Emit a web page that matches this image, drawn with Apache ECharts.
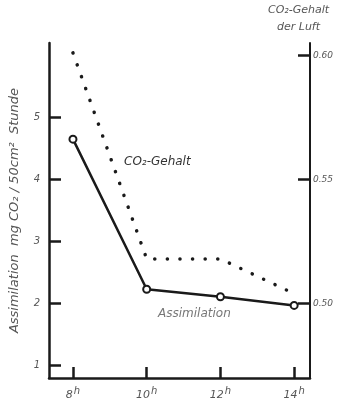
<!DOCTYPE html>
<html>
<head>
<meta charset="utf-8">
<script src="https://cdn.jsdelivr.net/npm/echarts@6/dist/echarts.min.js"></script>
<style>
  html, body { margin: 0; padding: 0; background: #fff; }
  #chart { width: 337px; height: 405px; }
</style>
</head>
<body>
<div id="chart"></div>
<script>
// hours of the day
var hours = [8, 10, 12, 14]
var hourLabels = ['8', '10', '12', '14']
// assimilation, mg CO2 / 50 cm2 / hour (left axis)
var assimilation = [4.65, 2.23, 2.11, 1.97]
// CO2 content of the air (right axis)
var co2 = [0.601, 0.518, 0.518, 0.504]
var leftTicks = [1, 2, 3, 4, 5]
var rightTicks = [0.50, 0.55, 0.60]

var ink = '#1a1a1a'
var pencil = '#555'
var font = 'DejaVu Sans'

var chart = echarts.init(document.getElementById('chart'), null, { renderer: 'canvas' })

function pairs(xs, ys) {
  return xs.map(function (x, i) { return [x, ys[i]] })
}

var option = {
  backgroundColor: '#fff',
  animation: false,
  grid: { left: 48, right: 27, top: 43, bottom: 27 },
  xAxis: {
    type: 'value',
    min: 7.35,
    max: 14.43,
    splitLine: { show: false },
    axisLine: { lineStyle: { color: ink, width: 2.5 } },
    axisTick: { inside: true, length: 11, customValues: hours, lineStyle: { color: ink, width: 2.5 } },
    axisLabel: {
      customValues: hours,
      formatter: function (v) { return '{n|' + hourLabels[hours.indexOf(v)] + '}{s|h}' },
      margin: 8,
      rich: {
        n: { color: pencil, fontFamily: font, fontStyle: 'italic', fontSize: 11 },
        s: { color: pencil, fontFamily: font, fontStyle: 'italic', fontSize: 10, padding: [0, 0, 8, 1] }
      }
    }
  },
  yAxis: [{
    type: 'value',
    min: 0.8,
    max: 6.2,
    splitLine: { show: false },
    axisLine: { show: true, lineStyle: { color: ink, width: 2.5 } },
    axisTick: { inside: true, length: 12, customValues: leftTicks, lineStyle: { color: ink, width: 2.5 } },
    axisLabel: { customValues: leftTicks, color: pencil, fontFamily: font, fontStyle: 'italic', fontSize: 10, margin: 9 },
    name: 'Assimilation  mg CO₂ / 50cm²  Stunde',
    nameLocation: 'middle',
    nameGap: 28,
    nameTextStyle: { color: pencil, fontFamily: font, fontStyle: 'italic', fontSize: 13 }
  }, {
    type: 'value',
    position: 'right',
    min: 0.47,
    max: 0.605,
    splitLine: { show: false },
    axisLine: { show: true, lineStyle: { color: ink, width: 2 } },
    axisTick: { inside: true, length: 12, customValues: rightTicks, lineStyle: { color: ink, width: 2.5 } },
    axisLabel: {
      customValues: rightTicks,
      formatter: function (v) { return v.toFixed(2) },
      color: pencil, fontFamily: font, fontStyle: 'italic', fontSize: 9, margin: 3
    }
  }],
  graphic: [
    { type: 'text', left: 268, top: 5, style: { text: 'CO₂-Gehalt', fill: pencil, font: 'italic 11px "DejaVu Sans"' } },
    { type: 'text', left: 277, top: 22, style: { text: 'der Luft', fill: pencil, font: 'italic 11px "DejaVu Sans"' } },
    { type: 'text', left: 124, top: 156, style: { text: 'CO₂-Gehalt', fill: '#333', font: 'italic 12px "DejaVu Sans"' } },
    { type: 'text', left: 158, top: 308, style: { text: 'Assimilation', fill: '#777', font: 'italic 12px "DejaVu Sans"' } }
  ],
  series: [{
    name: 'CO2',
    type: 'line',
    yAxisIndex: 1,
    data: pairs(hours, co2),
    symbol: 'none',
    lineStyle: { color: ink, width: 3.5, type: [0.1, 12.5], cap: 'round' }
  }, {
    name: 'Assimilation',
    type: 'line',
    data: pairs(hours, assimilation),
    symbol: 'emptyCircle',
    symbolSize: 7,
    itemStyle: { color: ink, borderWidth: 1.5 },
    lineStyle: { color: ink, width: 2.5 }
  }]
}

chart.setOption(option)
</script>
</body>
</html>
